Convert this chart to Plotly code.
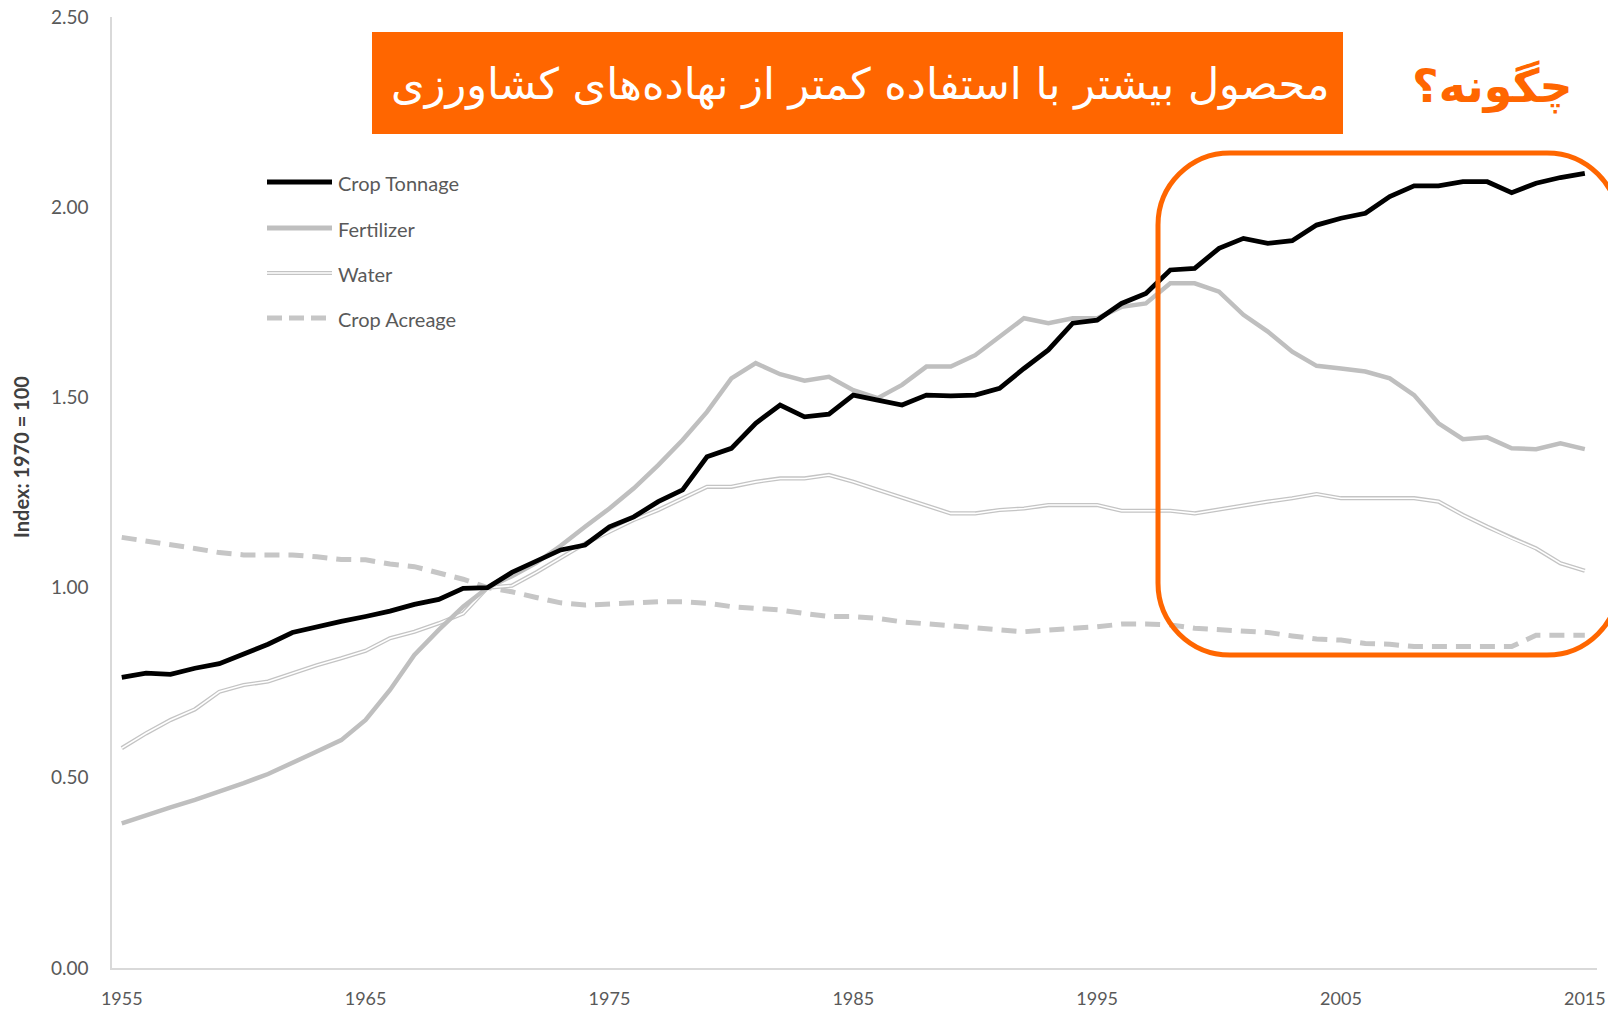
import plotly.graph_objects as go

# ---------------- data ----------------
years = list(range(1955, 2016))

crop_tonnage = [0.764, 0.775, 0.772, 0.788, 0.800, 0.825, 0.851, 0.882, 0.898, 0.911,
                0.924, 0.938, 0.956, 0.969, 0.998, 1.000, 1.040, 1.070, 1.099, 1.112,
                1.160, 1.186, 1.226, 1.257, 1.344, 1.366, 1.432, 1.480, 1.449, 1.456,
                1.506, 1.493, 1.480, 1.506, 1.504, 1.506, 1.524, 1.576, 1.625, 1.695,
                1.703, 1.747, 1.773, 1.835, 1.839, 1.892, 1.918, 1.905, 1.912, 1.953,
                1.971, 1.984, 2.028, 2.056, 2.056, 2.067, 2.067, 2.038, 2.063, 2.078,
                2.089]

fertilizer = [0.380, 0.402, 0.422, 0.442, 0.463, 0.486, 0.510, 0.538, 0.569, 0.599,
              0.652, 0.731, 0.823, 0.889, 0.950, 1.000, 1.030, 1.065, 1.110, 1.160,
              1.208, 1.261, 1.322, 1.388, 1.462, 1.550, 1.590, 1.561, 1.544, 1.554,
              1.519, 1.498, 1.533, 1.581, 1.581, 1.611, 1.660, 1.708, 1.695, 1.708,
              1.708, 1.738, 1.747, 1.800, 1.800, 1.778, 1.717, 1.673, 1.620, 1.583,
              1.576, 1.568, 1.550, 1.506, 1.432, 1.390, 1.395, 1.366, 1.364, 1.379,
              1.364]

water = [0.578, 0.617, 0.652, 0.680, 0.726, 0.744, 0.753, 0.775, 0.796, 0.814,
         0.834, 0.867, 0.884, 0.906, 0.932, 1.000, 1.005, 1.040, 1.077, 1.116,
         1.147, 1.178, 1.204, 1.235, 1.265, 1.265, 1.278, 1.287, 1.287, 1.296,
         1.278, 1.257, 1.237, 1.217, 1.195, 1.195, 1.204, 1.208, 1.217, 1.217,
         1.217, 1.202, 1.202, 1.202, 1.195, 1.206, 1.217, 1.226, 1.235, 1.246,
         1.235, 1.235, 1.235, 1.235, 1.226, 1.191, 1.160, 1.130, 1.103, 1.064,
         1.044]

crop_acreage = [1.132, 1.123, 1.115, 1.103, 1.092, 1.086, 1.086, 1.086, 1.081, 1.074,
                1.073, 1.062, 1.055, 1.037, 1.022, 1.000, 0.989, 0.974, 0.960, 0.954,
                0.957, 0.963, 0.963, 0.963, 0.959, 0.950, 0.946, 0.941, 0.932, 0.924,
                0.924, 0.919, 0.910, 0.904, 0.899, 0.893, 0.889, 0.884, 0.890, 0.893,
                0.897, 0.904, 0.904, 0.902, 0.893, 0.889, 0.884, 0.882, 0.873, 0.865,
                0.862, 0.853, 0.851, 0.845, 0.845, 0.845, 0.845, 0.845, 0.875, 0.875,
                0.875]

x_tick_vals = [1955, 1965, 1975, 1985, 1995, 2005, 2015]
y_tick_vals = [0.0, 0.5, 1.0, 1.5, 2.0, 2.5]
legend_names = ["Crop Tonnage", "Fertilizer", "Water", "Crop Acreage"]
y_title = "Index: 1970 = 100"
title_text = "محصول بیشتر با استفاده کمتر از نهاده\u200cهای کشاورزی"
question_text = "چگونه؟"

# ---------------- styles ----------------
ORANGE = "#FF6600"
GRAY = "#BFBFBF"
DASHGRAY = "#C6C6C6"
TXT = "#595959"
FONT = "Lato, 'Open Sans', sans-serif"

W, H = 1608, 1010
ML, MR, MT, MB = 112, 11, 17, 42
PW, PH = W - ML - MR, H - MT - MB


def px(xp):
    return (xp - ML) / PW


def py(yp):
    return (H - MB - yp) / PH


fig = go.Figure()

fig.add_trace(go.Scatter(x=years, y=crop_acreage, mode="lines", name=legend_names[3],
                         line=dict(color=DASHGRAY, width=5, dash="15px,9px"),
                         showlegend=False))
fig.add_trace(go.Scatter(x=years, y=water, mode="lines", name=legend_names[2],
                         line=dict(color="#C4C4C4", width=4.2), showlegend=False))
fig.add_trace(go.Scatter(x=years, y=water, mode="lines", name=legend_names[2] + " (inner)",
                         line=dict(color="white", width=1.6), showlegend=False,
                         hoverinfo="skip"))
fig.add_trace(go.Scatter(x=years, y=fertilizer, mode="lines", name=legend_names[1],
                         line=dict(color=GRAY, width=4.5), showlegend=False))
fig.add_trace(go.Scatter(x=years, y=crop_tonnage, mode="lines", name=legend_names[0],
                         line=dict(color="black", width=4.8), showlegend=False))

shapes = []
annotations = []

# ---- manual legend ----
leg_y = [182, 228, 273, 318]
lx0, lx1, ltx = 267, 332, 336
leg_styles = [
    [dict(color="black", width=5)],
    [dict(color=GRAY, width=5)],
    [dict(color="#C4C4C4", width=4.2), dict(color="white", width=1.6)],
    [dict(color=DASHGRAY, width=5, dash="15px,7px")],
]
for name, yy, styles in zip(legend_names, leg_y, leg_styles):
    for st in styles:
        shapes.append(dict(type="line", xref="paper", yref="paper",
                           x0=px(lx0), x1=px(lx1), y0=py(yy), y1=py(yy), line=st))
    annotations.append(dict(text=name, xref="paper", yref="paper", x=px(ltx), y=py(yy + 1),
                            xanchor="left", yanchor="middle", showarrow=False,
                            font=dict(family=FONT, size=20, color=TXT)))

# ---- orange title box ----
shapes.append(dict(type="rect", xref="paper", yref="paper",
                   x0=px(372), x1=px(1343), y0=py(134), y1=py(32),
                   fillcolor=ORANGE, line=dict(width=0), layer="above"))
annotations.append(dict(text=title_text, xref="paper", yref="paper",
                        x=px(860), y=py(84), xanchor="center", yanchor="middle",
                        showarrow=False,
                        font=dict(family="'DejaVu Sans', sans-serif", size=43, color="white")))
annotations.append(dict(text="<b>" + question_text + "</b>", xref="paper", yref="paper",
                        x=px(1492), y=py(86), xanchor="center", yanchor="middle",
                        showarrow=False,
                        font=dict(family="'DejaVu Sans', sans-serif", size=46, color=ORANGE)))

# ---- rounded highlight rectangle ----
L, T, R, B, r = 1158, 153, 1619, 655, 72
k = 0.5523 * r
path = (
    f"M {px(L)},{py(T + r)} "
    f"C {px(L)},{py(T + r - k)} {px(L + r - k)},{py(T)} {px(L + r)},{py(T)} "
    f"L {px(R - r)},{py(T)} "
    f"C {px(R - r + k)},{py(T)} {px(R)},{py(T + r - k)} {px(R)},{py(T + r)} "
    f"L {px(R)},{py(B - r)} "
    f"C {px(R)},{py(B - r + k)} {px(R - r + k)},{py(B)} {px(R - r)},{py(B)} "
    f"L {px(L + r)},{py(B)} "
    f"C {px(L + r - k)},{py(B)} {px(L)},{py(B - r + k)} {px(L)},{py(B - r)} Z"
)
shapes.append(dict(type="path", xref="paper", yref="paper", path=path,
                   line=dict(color=ORANGE, width=5), layer="above"))

# ---- y axis title ----
annotations.append(dict(text="<b>" + y_title + "</b>", xref="paper", yref="paper",
                        x=px(21), y=py(457), xanchor="center", yanchor="middle",
                        textangle=-90, showarrow=False,
                        font=dict(family=FONT, size=20, color="#404040")))

fig.update_layout(
    width=W, height=H,
    margin=dict(l=ML, r=MR, t=MT, b=MB, autoexpand=False),
    paper_bgcolor="white", plot_bgcolor="white",
    showlegend=False,
    shapes=shapes, annotations=annotations,
    font=dict(family=FONT, size=18, color=TXT),
    xaxis=dict(range=[1954.6, 2015.5], tickvals=x_tick_vals,
               showgrid=False, zeroline=False, showline=True,
               linecolor="#D9D9D9", linewidth=1.5, ticks="",
               ticklabelstandoff=14, automargin=False,
               tickfont=dict(family=FONT, size=18, color=TXT)),
    yaxis=dict(range=[0, 2.5], tickvals=y_tick_vals, tickformat=".2f",
               showgrid=False, zeroline=False, showline=True,
               linecolor="#D9D9D9", linewidth=1.5, ticks="",
               ticklabelstandoff=18, automargin=False,
               tickfont=dict(family=FONT, size=19, color=TXT)),
)

fig.write_html("out.html", config={"displayModeBar": False},
               post_script="document.body.style.margin='0';")
